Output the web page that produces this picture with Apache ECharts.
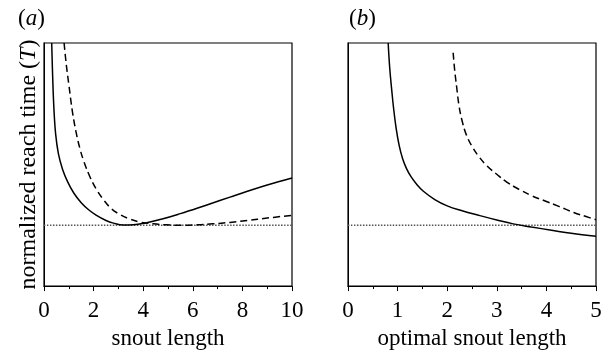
<!DOCTYPE html>
<html>
<head>
<meta charset="utf-8">
<script src="https://cdn.jsdelivr.net/npm/echarts@6/dist/echarts.min.js"></script>
<style>
  html, body { margin: 0; padding: 0; background: #fff; }
  #chart { width: 607px; height: 355px; }
</style>
</head>
<body>
<div id="chart"></div>
<script>
// panel (a): reach time vs snout length
const solidA = [[0.31,10],[0.35,8.6],[0.40,7.3],[0.47,6.25],[0.58,5.45],[0.75,4.8],[0.95,4.3],[1.2,3.83],[1.5,3.43],[1.8,3.14],[2.1,2.92],[2.5,2.7],[2.8,2.59],[3.2,2.51],[3.6,2.52],[4.1,2.6],[4.8,2.77],[5.5,2.98],[6.2,3.21],[6.8,3.42],[7.5,3.66],[8.2,3.9],[9.0,4.16],[10,4.45]]
const dashedA = [[0.81,10],[0.9,9.1],[1.0,8.3],[1.15,7.15],[1.3,6.3],[1.45,5.65],[1.6,5.15],[1.85,4.5],[2.1,4.0],[2.4,3.55],[2.7,3.2],[3.0,2.98],[3.4,2.78],[3.9,2.63],[4.4,2.56],[4.9,2.52],[5.5,2.5],[6.2,2.52],[6.8,2.56],[7.5,2.62],[8.2,2.7],[9,2.8],[10,2.91]]

// panel (b): reach time vs optimal snout length
const solidB = [[0.81,10],[0.84,9.0],[0.88,8.1],[0.92,7.3],[0.97,6.5],[1.03,5.8],[1.1,5.25],[1.18,4.83],[1.27,4.5],[1.38,4.2],[1.52,3.9],[1.75,3.56],[2.0,3.3],[2.3,3.1],[2.66,2.9],[3.0,2.72],[3.33,2.56],[3.7,2.43],[4.1,2.3],[4.5,2.17],[5,2.05]]
const dashedB = [[2.12,9.6],[2.15,8.9],[2.19,8.2],[2.24,7.4],[2.3,6.8],[2.39,6.2],[2.5,5.75],[2.63,5.35],[2.8,4.95],[3.0,4.6],[3.2,4.28],[3.45,3.98],[3.7,3.72],[3.95,3.52],[4.25,3.28],[4.55,3.03],[4.8,2.86],[5.0,2.73]]

// reference level (dotted)
const refLevel = 2.5
const xMaxA = 10
const xMaxB = 5

const FONT = '"Liberation Serif", "DejaVu Serif", serif'
const FS = 23

const chart = echarts.init(document.getElementById('chart'))

const italic = { i: { fontFamily: FONT, fontSize: FS, fontStyle: 'italic', color: '#000' } }

function xAxisOf(gridIndex, max, interval, name) {
    return {
        type: 'value', gridIndex, min: 0, max, interval,
        name, nameLocation: 'middle', nameGap: 39,
        nameTextStyle: { fontFamily: FONT, fontSize: FS, color: '#000' },
        axisLine: { lineStyle: { color: '#000', width: 1 } },
        axisTick: { length: 5, lineStyle: { color: '#000' } },
        minorTick: { show: true, splitNumber: 2, length: 3, lineStyle: { color: '#000' } },
        axisLabel: { fontFamily: FONT, fontSize: FS, color: '#000', margin: 13 },
        splitLine: { show: false },
        minorSplitLine: { show: false },
    }
}

function yAxisOf(gridIndex, name) {
    return {
        type: 'value', gridIndex, min: 0, max: 10,
        name, nameLocation: 'middle', nameGap: 3,
        nameTextStyle: {
            fontFamily: FONT, fontSize: 24, color: '#000',
            rich: { i: { fontFamily: FONT, fontSize: 24, fontStyle: 'italic', color: '#000' } },
        },
        axisLine: { show: true, lineStyle: { color: '#000' } },
        axisTick: { show: false },
        axisLabel: { show: false },
        splitLine: { show: false },
    }
}

function line(data, i, type, color, width) {
    return {
        type: 'line', xAxisIndex: i, yAxisIndex: i, data,
        showSymbol: false, smooth: 0.4, silent: true,
        lineStyle: { color, width, type },
    }
}

chart.setOption({
    animation: false,
    backgroundColor: '#fff',
    title: [
        { text: '({i|a})', left: 13, top: 2, textStyle: { fontFamily: FONT, fontSize: FS, fontWeight: 'normal', color: '#000', rich: italic } },
        { text: '({i|b})', left: 344, top: 2, textStyle: { fontFamily: FONT, fontSize: FS, fontWeight: 'normal', color: '#000', rich: italic } },
    ],
    grid: [
        { left: 44, top: 43, width: 248, height: 245, show: true, borderColor: '#000', borderWidth: 1.2 },
        { left: 348, top: 43, width: 248, height: 245, show: true, borderColor: '#000', borderWidth: 1.2 },
    ],
    xAxis: [
        xAxisOf(0, xMaxA, 2, 'snout length'),
        xAxisOf(1, xMaxB, 1, 'optimal snout length'),
    ],
    yAxis: [
        yAxisOf(0, 'normalized reach time ({i|T})'),
        yAxisOf(1, ''),
    ],
    series: [
        line([[0, refLevel], [xMaxA, refLevel]], 0, [1.5, 1.5], '#555', 1.5),
        line(solidA, 0, 'solid', '#000', 1.5),
        line(dashedA, 0, [7, 4], '#000', 1.5),
        line([[0, refLevel], [xMaxB, refLevel]], 1, [1.5, 1.5], '#555', 1.5),
        line(solidB, 1, 'solid', '#000', 1.5),
        line(dashedB, 1, [7, 4], '#000', 1.5),
    ],
})
</script>
</body>
</html>
